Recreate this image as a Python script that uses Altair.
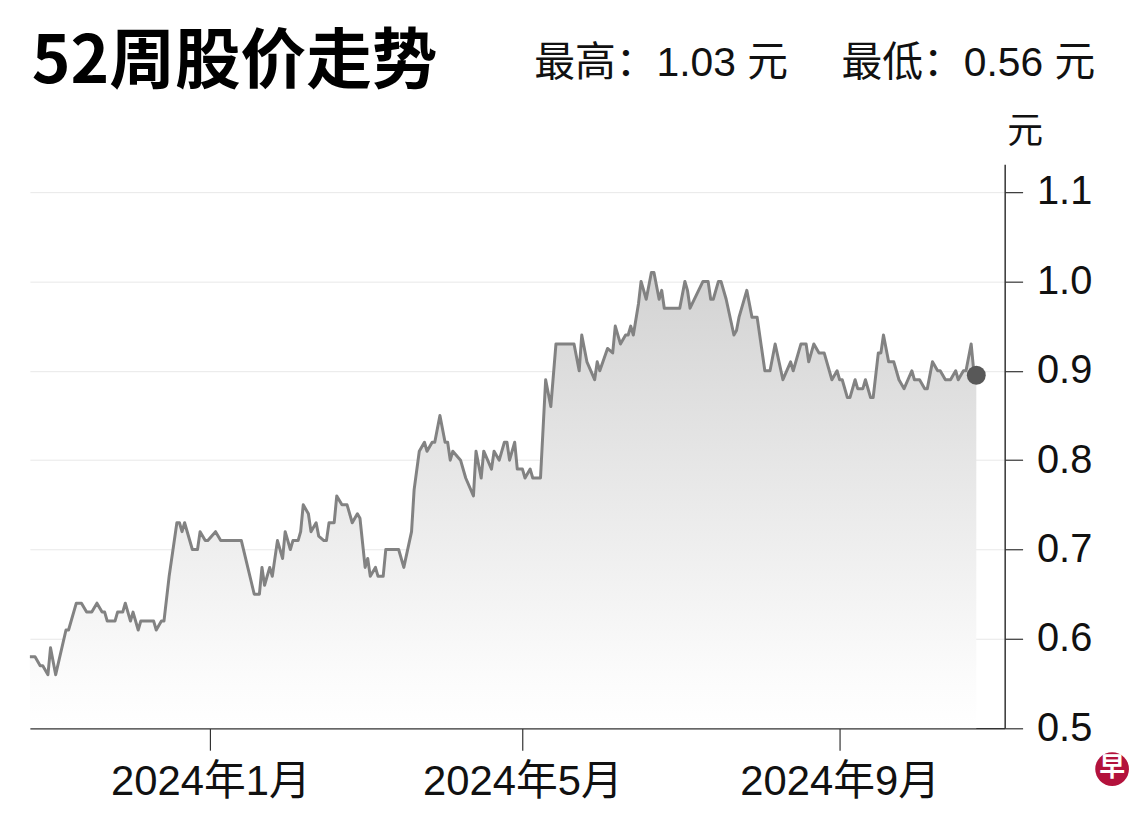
import altair as alt
import pandas as pd

# ---- data ----
dates = [
    "2023-10-23", "2023-10-25", "2023-10-27", "2023-10-28", "2023-10-30", "2023-10-31",
    "2023-11-02", "2023-11-06", "2023-11-07", "2023-11-10", "2023-11-12", "2023-11-14",
    "2023-11-16", "2023-11-18", "2023-11-20", "2023-11-21", "2023-11-22", "2023-11-25",
    "2023-11-26", "2023-11-28", "2023-11-29", "2023-12-01", "2023-12-02", "2023-12-04",
    "2023-12-05", "2023-12-10", "2023-12-11", "2023-12-13", "2023-12-14", "2023-12-16",
    "2023-12-19", "2023-12-20", "2023-12-21", "2023-12-22", "2023-12-25", "2023-12-27",
    "2023-12-28", "2023-12-30", "2023-12-31", "2024-01-03", "2024-01-05", "2024-01-13",
    "2024-01-18", "2024-01-20", "2024-01-21", "2024-01-22", "2024-01-24", "2024-01-25",
    "2024-01-27", "2024-01-29", "2024-01-30", "2024-02-01", "2024-02-02", "2024-02-04",
    "2024-02-05", "2024-02-06", "2024-02-08", "2024-02-09", "2024-02-11", "2024-02-12",
    "2024-02-14", "2024-02-15", "2024-02-16", "2024-02-18", "2024-02-19", "2024-02-21",
    "2024-02-23", "2024-02-25", "2024-02-27", "2024-02-28", "2024-03-01", "2024-03-02",
    "2024-03-03", "2024-03-05", "2024-03-06", "2024-03-08", "2024-03-09", "2024-03-14",
    "2024-03-16", "2024-03-19", "2024-03-20", "2024-03-22", "2024-03-24", "2024-03-25",
    "2024-03-27", "2024-03-28", "2024-03-30", "2024-04-01", "2024-04-02", "2024-04-03",
    "2024-04-04", "2024-04-07", "2024-04-09", "2024-04-12", "2024-04-13", "2024-04-15",
    "2024-04-16", "2024-04-19", "2024-04-20", "2024-04-22", "2024-04-24", "2024-04-25",
    "2024-04-26", "2024-04-28", "2024-04-29", "2024-05-01", "2024-05-02", "2024-05-04",
    "2024-05-05", "2024-05-08",
    "2024-05-10", "2024-05-12", "2024-05-14", "2024-05-21", "2024-05-23", "2024-05-24",
    "2024-05-26", "2024-05-29", "2024-05-30", "2024-05-31", "2024-06-03", "2024-06-05",
    "2024-06-06", "2024-06-08", "2024-06-10", "2024-06-11", "2024-06-12", "2024-06-13",
    "2024-06-15", "2024-06-16", "2024-06-18", "2024-06-20", "2024-06-21", "2024-06-23",
    "2024-06-24", "2024-06-25", "2024-07-01", "2024-07-03", "2024-07-04", "2024-07-05",
    "2024-07-10", "2024-07-12", "2024-07-13", "2024-07-14", "2024-07-16", "2024-07-17",
    "2024-07-19", "2024-07-22", "2024-07-23", "2024-07-24", "2024-07-27", "2024-07-29",
    "2024-07-31", "2024-08-03", "2024-08-05", "2024-08-07", "2024-08-10", "2024-08-13",
    "2024-08-14", "2024-08-17", "2024-08-19", "2024-08-20", "2024-08-22", "2024-08-24",
    "2024-08-26", "2024-08-29", "2024-08-31", "2024-09-01", "2024-09-02", "2024-09-04",
    "2024-09-05", "2024-09-07", "2024-09-08", "2024-09-10", "2024-09-11", "2024-09-13",
    "2024-09-14", "2024-09-16", "2024-09-17", "2024-09-18", "2024-09-20", "2024-09-22",
    "2024-09-24", "2024-09-26", "2024-09-29", "2024-09-30", "2024-10-02", "2024-10-04",
    "2024-10-05", "2024-10-07", "2024-10-09", "2024-10-10", "2024-10-12", "2024-10-14",
    "2024-10-16", "2024-10-17", "2024-10-19", "2024-10-20", "2024-10-22", "2024-10-23",
    "2024-10-24",
]
prices = [
    0.58, 0.58, 0.57, 0.57, 0.56, 0.59,
    0.56, 0.61, 0.61, 0.64, 0.64, 0.63,
    0.63, 0.64, 0.63, 0.63, 0.62, 0.62,
    0.63, 0.63, 0.64, 0.62, 0.63, 0.61,
    0.62, 0.62, 0.61, 0.62, 0.62, 0.67,
    0.73, 0.73, 0.72, 0.73, 0.70, 0.70,
    0.72, 0.71, 0.71, 0.72, 0.71, 0.71,
    0.65, 0.65, 0.68, 0.66, 0.68, 0.67,
    0.71, 0.69, 0.72, 0.70, 0.71, 0.71,
    0.72, 0.75, 0.74, 0.72, 0.73, 0.715,
    0.71, 0.71, 0.73, 0.73, 0.76, 0.75,
    0.75, 0.73, 0.74, 0.735, 0.68, 0.69,
    0.67, 0.68, 0.67, 0.67, 0.70, 0.70,
    0.68, 0.72, 0.767, 0.81, 0.82, 0.81,
    0.82, 0.82, 0.85, 0.82, 0.82, 0.80,
    0.81, 0.80, 0.78, 0.76, 0.81, 0.78,
    0.81, 0.79, 0.81, 0.80, 0.82, 0.82,
    0.80, 0.82, 0.79, 0.79, 0.78, 0.79,
    0.78, 0.78,
    0.89, 0.86, 0.93, 0.93, 0.90, 0.94,
    0.91, 0.89, 0.91, 0.90, 0.925, 0.92,
    0.95, 0.93, 0.94, 0.94, 0.95, 0.94,
    0.975, 1.00, 0.98, 1.01, 1.01, 0.98,
    0.99, 0.97, 0.97, 1.00, 0.99, 0.97,
    1.00, 1.00, 0.98, 0.98, 1.00, 1.00,
    0.98, 0.94, 0.945, 0.96, 0.99, 0.96,
    0.96, 0.90, 0.90, 0.93, 0.89, 0.91,
    0.90, 0.93, 0.93, 0.91, 0.93, 0.92,
    0.92, 0.89, 0.90, 0.89, 0.89, 0.87,
    0.87, 0.89, 0.88, 0.88, 0.89, 0.87,
    0.87, 0.92, 0.92, 0.94, 0.91, 0.91,
    0.89, 0.88, 0.90, 0.89, 0.89, 0.88,
    0.88, 0.91, 0.90, 0.90, 0.89, 0.89,
    0.90, 0.89, 0.90, 0.90, 0.93, 0.90,
    0.895,
]
y_ticks = [0.5, 0.6, 0.7, 0.8, 0.9, 1.0, 1.1]
x_tick_months = [(2024, 1), (2024, 5), (2024, 9)]
title_text = "52周股价走势"
high_value = 1.03
low_value = 0.56
unit = "元"

df = pd.DataFrame({"date": pd.to_datetime(dates), "price": prices})
end_df = df.tail(1)

LATIN = "Liberation Sans, Arial, Noto Sans CJK SC, sans-serif"
CJK = "Noto Sans CJK SC, sans-serif"

x_enc = alt.X(
    "date:T",
    scale=alt.Scale(domain=[alt.DateTime(year=2023, month=10, date=23),
                            alt.DateTime(year=2024, month=11, date=4)]),
    axis=alt.Axis(
        title=None,
        values=[alt.DateTime(year=yy, month=mm, date=1) for yy, mm in x_tick_months],
        format="%Y年%-m月",
        grid=False,
        domainColor="#333333", domainWidth=1.5,
        tickColor="#333333", tickWidth=1.2, tickSize=22,
        labelFont=LATIN, labelFontSize=42, labelColor="#111111",
        labelPadding=12, labelFlush=False, labelOverlap=False, labelLimit=0,
    ),
)
y_enc = alt.Y(
    "price:Q",
    scale=alt.Scale(domain=[0.5, 1.131], zero=False, nice=False),
    axis=alt.Axis(
        orient="right",
        values=y_ticks,
        format=".1f",
        grid=True, gridColor="#e8e8e8", gridWidth=1,
        domainColor="#333333", domainWidth=1.5,
        tickColor="#333333", tickWidth=1.2, tickSize=18,
        labelFont=LATIN, labelFontSize=40, labelColor="#111111",
        labelPadding=14, labelFlush=False, labelOverlap=False, labelLimit=0,
        title=unit, titleAngle=0, titleX=20, titleY=-33,
        titleAlign="center", titleBaseline="middle",
        titleFont=CJK, titleFontSize=36, titleFontWeight="normal",
        titleColor="#111111",
    ),
)

gradient = alt.Gradient(
    gradient="linear",
    stops=[alt.GradientStop(color="#ffffff", offset=0),
           alt.GradientStop(color="#fbfbfb", offset=0.12),
           alt.GradientStop(color="#d3d3d3", offset=1)],
    x1=1, x2=1, y1=1, y2=0,
)

base = alt.Chart(df)
area = base.mark_area(color=gradient).encode(x=x_enc, y=y_enc, y2=alt.Y2(datum=0.5))
line = base.mark_line(color="#828282", strokeWidth=3, strokeJoin="round").encode(x=x_enc, y=y_enc)
dot = alt.Chart(end_df).mark_circle(size=360, color="#585858", opacity=1).encode(x=x_enc, y=y_enc)

title = alt.Chart(pd.DataFrame({"t": [title_text]})).mark_text(
    font=CJK, fontSize=66, fontWeight="bold", align="left", baseline="middle", color="#000000"
).encode(x=alt.value(2), y=alt.value(-102), text="t:N")

high_txt = alt.Chart(pd.DataFrame({"t": [f"最高：{high_value:.2f} 元"]})).mark_text(
    font=LATIN, fontSize=41, align="left", baseline="middle", color="#111111"
).encode(x=alt.value(507), y=alt.value(-101), text="t:N")

low_txt = alt.Chart(pd.DataFrame({"t": [f"最低：{low_value:.2f} 元"]})).mark_text(
    font=LATIN, fontSize=41, align="right", baseline="middle", color="#111111"
).encode(x=alt.value(1071), y=alt.value(-101), text="t:N")

logo_df = pd.DataFrame({"t": ["早"]})
logo_circle = alt.Chart(logo_df).mark_circle(size=1150, color="#b3123c", opacity=1).encode(
    x=alt.value(1088), y=alt.value(608)
)
logo_text = alt.Chart(logo_df).mark_text(
    font=CJK, fontSize=26, fontWeight="bold", color="#ffffff", align="center", baseline="middle"
).encode(x=alt.value(1088), y=alt.value(607), text="t:N")

chart = alt.layer(area, line, dot, title, high_txt, low_txt, logo_circle, logo_text).properties(
    width=980,
    height=567,
    padding={"left": 22, "top": 155, "right": 128, "bottom": 80},
    autosize=alt.AutoSizeParams(type="none"),
    background="#ffffff",
).configure_view(stroke=None)

chart.save("out.html", embed_options={"renderer": "svg", "actions": False})
